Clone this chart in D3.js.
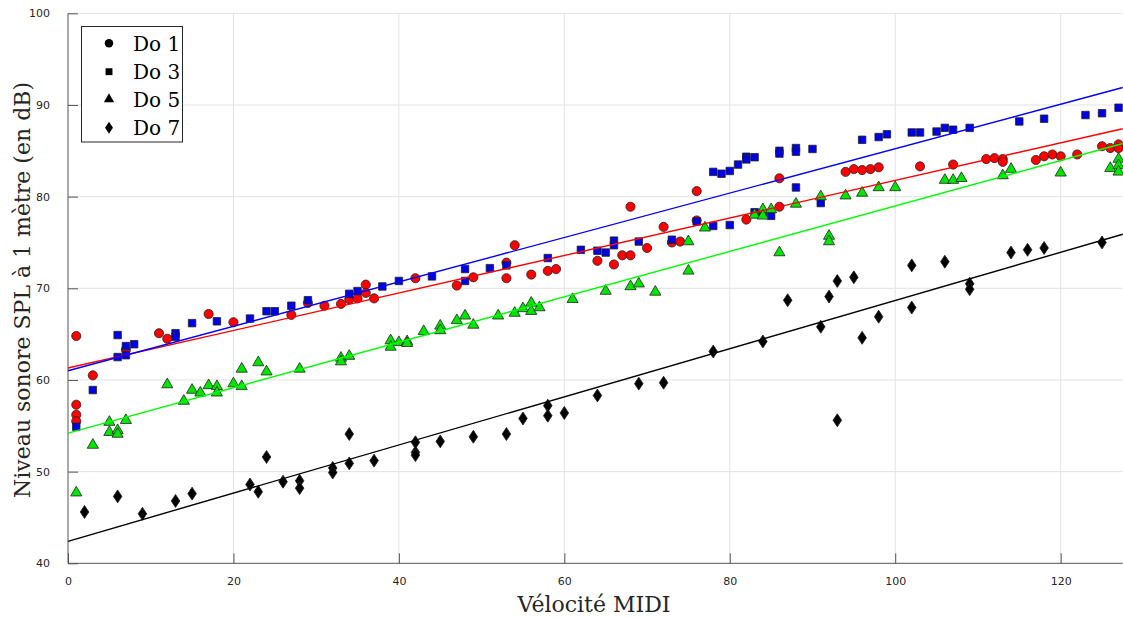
<!DOCTYPE html>
<html><head><meta charset="utf-8">
<script src="https://cdn.jsdelivr.net/npm/d3@7"></script>
<style>body{margin:0;background:#fff}</style>
</head><body>
<svg id="chart" width="1123" height="618"></svg>
<script>
const seriesNames = ["Do 1", "Do 3", "Do 5", "Do 7"];
const xTicks = [0, 20, 40, 60, 80, 100, 120];
const yTicks = [40, 50, 60, 70, 80, 90, 100];

const do1Vel = [1,1,1,1,3,7,11,12,17,20,27,29,31,33,34,35,36,36,37,42,47,49,53,53,54,56,58,59,64,66,67,68,68,70,72,73,74,76,76,82,86,86,94,95,96,97,98,103,107,111,112,113,113,117,118,119,120,122,125,126,127,127];
const do1SPL = [64.8,57.3,56.2,55.5,60.5,63.3,65.1,64.5,67.2,66.3,67.1,68.4,68.1,68.3,68.8,68.9,70.4,69.5,68.9,71.1,70.3,71.2,72.8,71.1,74.7,71.5,71.9,72.1,73.0,72.6,73.6,73.6,78.9,74.4,76.7,75.0,75.1,77.4,80.6,77.5,82.0,78.9,82.7,83.0,82.9,83.0,83.2,83.3,83.5,84.1,84.2,84.1,83.8,84.0,84.4,84.6,84.4,84.6,85.5,85.3,85.7,85.3];

const do3Vel = [1,3,6,6,7,7,8,13,13,15,18,22,24,25,27,29,34,35,38,40,44,48,48,51,53,58,62,64,65,66,66,69,73,76,78,78,79,80,80,81,82,82,83,83,84,85,86,86,88,88,88,90,91,96,98,99,102,103,105,106,107,109,115,118,123,125,127];
const do3SPL = [54.9,58.9,64.9,62.5,63.7,62.7,63.9,65.1,64.7,66.2,66.4,66.7,67.5,67.5,68.1,68.7,69.4,69.7,70.2,70.8,71.3,72.1,70.8,72.2,72.5,73.3,74.2,74.1,73.9,75.2,74.7,75.1,75.3,77.3,76.8,82.7,82.5,82.8,76.9,83.5,84.35,84.06,84.3,78.3,78.2,77.9,85.0,84.7,85.3,84.9,81.0,85.2,79.3,86.2,86.5,86.8,87.0,87.0,87.1,87.5,87.3,87.5,88.2,88.5,88.9,89.1,89.7];

const do5Vel = [1,3,5,5,6,6,7,12,14,15,16,17,18,18,20,21,21,23,24,28,33,33,34,39,39,40,41,41,43,45,45,47,48,49,52,54,55,56,56,57,61,65,68,69,71,75,75,77,83,84,84,85,86,88,91,92,92,94,96,98,100,106,107,108,113,114,120,126,127,127,127];
const do5SPL = [47.7,52.9,55.4,54.3,54.5,54.1,55.6,59.5,57.7,58.9,58.6,59.4,59.3,58.6,59.6,59.3,61.2,61.9,60.9,61.2,62.4,62.0,62.6,64.3,63.6,64.1,64.2,64.0,65.3,65.9,65.4,66.5,67.0,66.0,67.0,67.3,67.8,68.4,67.5,67.9,68.8,69.7,70.2,70.5,69.6,75.1,71.9,76.6,78.0,78.6,77.9,78.6,73.9,79.2,80.0,75.7,75.1,80.1,80.4,81.0,81.0,81.8,81.8,82.0,82.3,83.0,82.6,83.1,84.1,83.4,82.7];

const do7Vel = [2,6,9,13,15,22,23,24,26,28,28,32,32,34,34,37,42,42,42,45,49,53,55,58,58,60,64,69,72,78,84,87,91,92,93,93,95,96,98,102,102,106,109,109,114,116,118,125];
const do7SPL = [45.6,47.3,45.4,46.8,47.6,48.6,47.8,51.6,48.9,49.0,48.2,50.4,49.9,54.1,50.9,51.2,53.2,52.1,51.8,53.3,53.8,54.1,55.8,57.2,56.1,56.4,58.3,59.6,59.7,63.1,64.2,68.7,65.8,69.1,70.8,55.6,71.2,64.6,66.9,72.5,67.9,72.9,70.5,69.9,73.9,74.2,74.4,75.0];

// linear fits: value at velocity 0 and at 127.5
const fitVel = [0, 127.5];
const fitStart = [61.3, 61.0, 54.2, 42.4];
const fitEnd = [87.4, 91.9, 85.8, 75.9];

const fillColors = ["#ff0000", "#0000e6", "#00e600", "#000000"];
const lineColors = ["#ff0000", "#0000ff", "#00ff00", "#000000"];
const symbols = [d3.symbolCircle, d3.symbolSquare, d3.symbolTriangle, d3.symbolDiamond];
const symSizes = [66, 56, 54, 48];
const symScale = ["", "", "", " scale(1.15,1)"];

const vels = [do1Vel, do3Vel, do5Vel, do7Vel];
const spls = [do1SPL, do3SPL, do5SPL, do7SPL];

const svg = d3.select("#chart");
svg.append("rect").attr("width", 1123).attr("height", 618).attr("fill", "#fff");

const L = 68, R = 1122.7, T = 13.3, B = 563.3;
const x = d3.scaleLinear().domain([0, 127.5]).range([L, R]);
const y = d3.scaleLinear().domain([40, 100]).range([B, T]);

// grid
const grid = svg.append("g");
grid.selectAll(".gx").data(xTicks.filter(t => t > 0)).join("line")
  .attr("x1", d => x(d)).attr("x2", d => x(d)).attr("y1", T).attr("y2", B)
  .attr("stroke", "#e3e3e3").attr("stroke-width", 1);
grid.selectAll(".gy").data(yTicks.filter(t => t > 40)).join("line")
  .attr("y1", d => y(d)).attr("y2", d => y(d)).attr("x1", L).attr("x2", R)
  .attr("stroke", "#e3e3e3").attr("stroke-width", 1);

// axes
const xAxis = d3.axisBottom(x).tickValues(xTicks).tickSize(-10).tickPadding(14);
const yAxis = d3.axisLeft(y).tickValues(yTicks).tickSize(-10).tickPadding(18);
const gx = svg.append("g").attr("transform", `translate(0,${B})`).call(xAxis);
const gy = svg.append("g").attr("transform", `translate(${L},0)`).call(yAxis);
[gx, gy].forEach(g => {
  g.select(".domain").attr("stroke", "#555").attr("stroke-width", 1);
  g.selectAll(".tick line").attr("stroke", "#555");
  g.selectAll(".tick text").attr("fill", "#262626").style("font-family", "DejaVu Sans").style("font-size", "11px");
});
gx.select(".domain").attr("d", `M${L},0H${R}`);
gy.select(".domain").attr("d", `M0,${B}V${T}`);

// points
const pts = svg.append("g");
vels.forEach((vs, i) => {
  const data = vs.map((v, k) => [v, spls[i][k]]);
  pts.append("g").selectAll("path").data(data).join("path")
    .attr("d", d3.symbol().type(symbols[i]).size(symSizes[i]))
    .attr("transform", d => `translate(${x(d[0])},${y(d[1])})${symScale[i]}`)
    .attr("fill", fillColors[i]).attr("stroke", "#222").attr("stroke-width", 0.8);
});

// fit lines
fitStart.forEach((s, i) => {
  svg.append("line")
    .attr("x1", x(fitVel[0])).attr("y1", y(s))
    .attr("x2", x(fitVel[1])).attr("y2", y(fitEnd[i]))
    .attr("stroke", lineColors[i]).attr("stroke-width", 1.4);
});

// axis labels
svg.append("text").attr("x", 594).attr("y", 612).attr("text-anchor", "middle")
  .style("font-family", "DejaVu Serif").style("font-size", "22px").attr("fill", "#262626")
  .text("Vélocité MIDI");
svg.append("text").attr("transform", "translate(30,290) rotate(-90)").attr("text-anchor", "middle")
  .style("font-family", "DejaVu Serif").style("font-size", "22px").attr("fill", "#262626")
  .text("Niveau sonore SPL à 1 mètre (en dB)");

// legend
const lg = svg.append("g");
lg.append("rect").attr("x", 81.5).attr("y", 26.5).attr("width", 101).attr("height", 115.5)
  .attr("fill", "#fff").attr("stroke", "#262626").attr("stroke-width", 1);
const rowY = [43.3, 71.7, 99.3, 127.7];
seriesNames.forEach((n, i) => {
  lg.append("path").attr("d", d3.symbol().type(symbols[i]).size(symSizes[i] * 0.85))
    .attr("transform", `translate(109,${rowY[i]})${symScale[i]}`)
    .attr("fill", "#000");
  lg.append("text").attr("x", 133).attr("y", rowY[i]).attr("dy", "0.36em")
    .style("font-family", "DejaVu Serif").style("font-size", "20px").attr("fill", "#000")
    .text(n);
});
</script>
</body></html>
